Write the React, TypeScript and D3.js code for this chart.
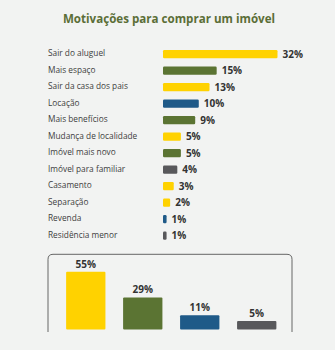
import React from 'react';
import * as d3 from 'd3';

const motivos = [
  'Sair do aluguel',
  'Mais espaço',
  'Sair da casa dos pais',
  'Locação',
  'Mais benefícios',
  'Mudança de localidade',
  'Imóvel mais novo',
  'Imóvel para familiar',
  'Casamento',
  'Separação',
  'Revenda',
  'Residência menor',
];
const motivoValores = [32, 15, 13, 10, 9, 5, 5, 4, 3, 2, 1, 1];
const motivoGrupos = ['y', 'g', 'y', 'b', 'g', 'y', 'g', 'k', 'y', 'y', 'b', 'k'];

const grupos = ['y', 'g', 'b', 'k'];
const grupoValores = [55, 29, 11, 5];

const cores: Record<string, string> = {
  y: '#ffd200',
  g: '#5b7433',
  b: '#1f5a88',
  k: '#58585b',
};

const W = 335;
const H = 350;
const font = "'Open Sans', 'DejaVu Sans', sans-serif";

export default function App() {
  const y = d3.scaleBand<string>()
    .domain(motivos)
    .range([45.8, 243.8])
    .paddingInner(0.5)
    .paddingOuter(0.25);

  const x = d3.scaleLinear()
    .domain([0, 32])
    .range([163, 277.5]);

  const bx = d3.scaleBand<string>()
    .domain(grupos)
    .range([57, 285.5])
    .paddingInner(0.31)
    .paddingOuter(0.16);

  const by = d3.scaleLinear()
    .domain([-3.5, 55])
    .range([329.5, 271.7]);

  const bh = y.bandwidth();

  return (
    <svg width={W} height={H} style={{ position: 'absolute', left: 0, top: 0, background: '#f2f3f2' }}>
      <rect width={W} height={H} fill="#f2f3f2" />
      <text x={169} y={22.5} textAnchor="middle" fontFamily={font} fontWeight={700}
        fontSize={11.6} fill="#5b6e37">Motivações para comprar um imóvel</text>

      {motivos.map((m, i) => {
        const yy = y(m)!;
        const w = Math.max(x(motivoValores[i]) - x(0), 3.2);
        return (
          <g key={m}>
            <text x={48} y={yy + bh / 2} dy="0.25em" fontFamily={font} fontSize={8.3}
              fill="#404040">{m}</text>
            <rect x={x(0)} y={yy} width={w} height={bh} rx={1.2} fill={cores[motivoGrupos[i]]} />
            <text x={x(0) + w + 5} y={yy + bh / 2} dy="0.36em" fontFamily={font} fontWeight={700}
              fontSize={10} fill="#333">{motivoValores[i]}%</text>
          </g>
        );
      })}

      <path d="M48,332 V259.3 Q48,254.3 53,254.3 H287 Q292,254.3 292,259.3 V332"
        fill="none" stroke="#666" strokeWidth={1} />

      {grupos.map((g, i) => (
        <g key={g}>
          <rect x={bx(g)} y={by(grupoValores[i])} width={bx.bandwidth()}
            height={by(-3.5) - by(grupoValores[i])} rx={1} fill={cores[g]} />
          <text x={bx(g)! + bx.bandwidth() / 2} y={by(grupoValores[i]) - 4} textAnchor="middle"
            fontFamily={font} fontWeight={700} fontSize={10} fill="#333">{grupoValores[i]}%</text>
        </g>
      ))}
    </svg>
  );
}
